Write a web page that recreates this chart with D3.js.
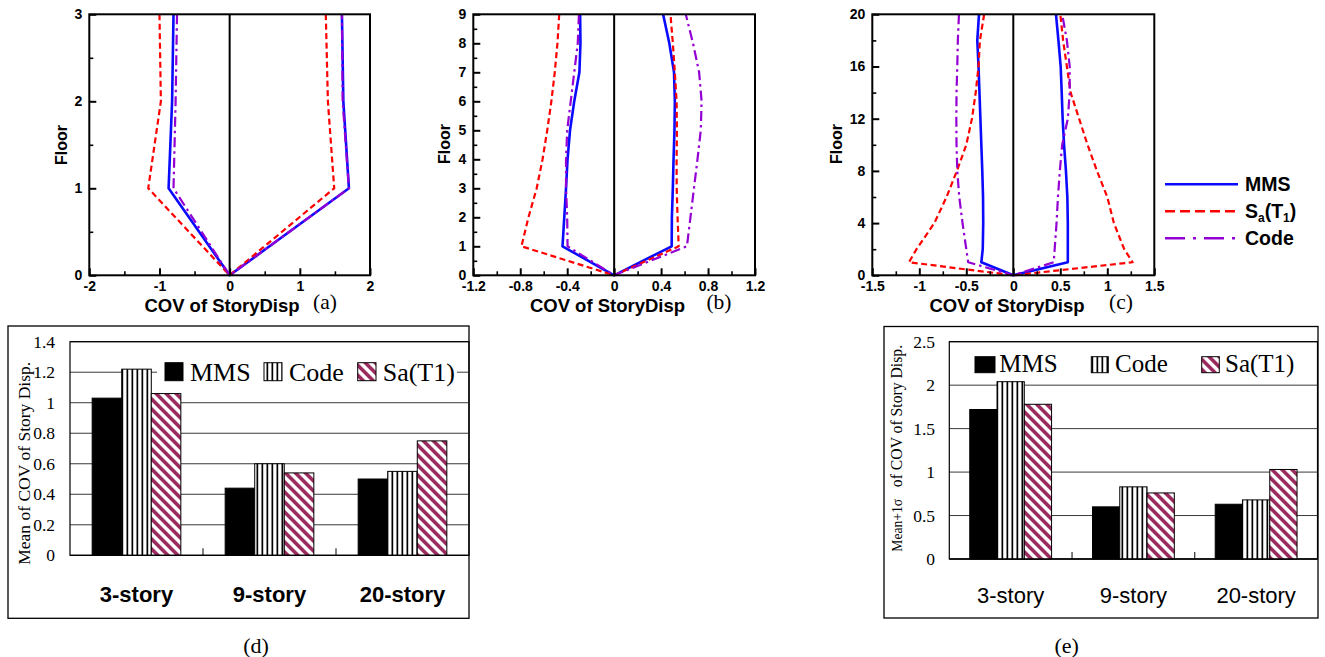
<!DOCTYPE html>
<html>
<head>
<meta charset="utf-8">
<script src="https://cdn.jsdelivr.net/npm/d3@7"></script>
<style>
  html, body { margin: 0; padding: 0; background: #fff; }
  svg { display: block; }
</style>
</head>
<body>
<svg id="fig" width="1325" height="657"></svg>
<script>
// ---------- COV of story displacement profiles (left branch < 0, right branch > 0) ----------
const floorsA = [0, 1, 2, 3];
const mmsAL  = [0, -0.87, -0.82, -0.80];
const mmsAR  = [0, 1.70, 1.62, 1.60];
const saAL   = [0, -1.16, -0.98, -1.00];
const saAR   = [0, 1.49, 1.40, 1.37];
const codeAL = [0, -0.80, -0.77, -0.75];
const codeAR = [0, 1.70, 1.61, 1.60];

const floorsB = [0, 1, 2, 3, 4, 5, 6, 7, 8, 9];
const mmsBL  = [0, -0.44, -0.425, -0.41, -0.397, -0.376, -0.34, -0.296, -0.287, -0.29];
const mmsBR  = [0, 0.49, 0.492, 0.50, 0.506, 0.514, 0.517, 0.51, 0.47, 0.417];
const saBL   = [0, -0.79, -0.73, -0.66, -0.61, -0.57, -0.535, -0.506, -0.483, -0.468];
const saBR   = [0, 0.55, 0.54, 0.533, 0.532, 0.535, 0.532, 0.517, 0.50, 0.48];
const codeBL = [0, -0.397, -0.40, -0.41, -0.41, -0.40, -0.37, -0.34, -0.31, -0.30];
const codeBR = [0, 0.62, 0.65, 0.68, 0.71, 0.738, 0.745, 0.724, 0.672, 0.61];

const floorsC = [0, 1, 2, 4, 6, 8, 10, 12, 14, 16, 18, 20];
const mmsCL  = [0, -0.34, -0.325, -0.32, -0.322, -0.33, -0.34, -0.35, -0.36, -0.37, -0.383, -0.365];
const mmsCR  = [0, 0.58, 0.58, 0.58, 0.575, 0.56, 0.54, 0.525, 0.515, 0.504, 0.48, 0.454];
const saCL   = [0, -1.11, -1.03, -0.84, -0.71, -0.60, -0.50, -0.44, -0.40, -0.37, -0.355, -0.31];
const saCR   = [0, 1.27, 1.18, 1.07, 1.00, 0.89, 0.79, 0.70, 0.61, 0.57, 0.53, 0.50];
const codeCL = [0, -0.48, -0.50, -0.54, -0.575, -0.596, -0.604, -0.606, -0.604, -0.596, -0.59, -0.578];
const codeCR = [0, 0.43, 0.44, 0.46, 0.475, 0.495, 0.52, 0.58, 0.60, 0.60, 0.57, 0.52];

// axis ticks of the profile panels
const xTicksA = [-2, -1, 0, 1, 2];
const xMinorA = [-1.5, -0.5, 0.5, 1.5];
const yTicksA = [0, 1, 2, 3];
const yMinorA = [0.5, 1.5, 2.5];
const xTicksB = [-1.2, -0.8, -0.4, 0, 0.4, 0.8, 1.2];
const xMinorB = [-1.0, -0.6, -0.2, 0.2, 0.6, 1.0];
const yTicksB = [0, 1, 2, 3, 4, 5, 6, 7, 8, 9];
const yMinorB = [0.5, 1.5, 2.5, 3.5, 4.5, 5.5, 6.5, 7.5, 8.5];
const xTicksC = [-1.5, -1, -0.5, 0, 0.5, 1, 1.5];
const xMinorC = [-1.25, -0.75, -0.25, 0.25, 0.75, 1.25];
const yTicksC = [0, 4, 8, 12, 16, 20];
const yMinorC = [2, 6, 10, 14, 18];

// ---------- summary bars ----------
const categories = ["3-story", "9-story", "20-story"];
const seriesNames = ["MMS", "Code", "Sa"];
const meanMMS  = [1.03, 0.44, 0.50];
const meanCode = [1.22, 0.60, 0.55];
const meanSa   = [1.06, 0.54, 0.75];
const sigMMS   = [1.72, 0.60, 0.63];
const sigCode  = [2.04, 0.83, 0.68];
const sigSa    = [1.78, 0.76, 1.03];
const yTicksD = [0, 0.2, 0.4, 0.6, 0.8, 1, 1.2, 1.4];
const yTicksE = [0, 0.5, 1, 1.5, 2, 2.5];

// ---------- drawing ----------
const SANS = "'Liberation Sans', Arial, Helvetica, sans-serif";
const SERIF = "'Liberation Serif', 'Times New Roman', Times, serif";
const svg = d3.select("#fig");

const lineStyle = {
  MMS:  { color: "#0a0aff", width: 2.6, dash: null,         legendDash: null },
  Sa:   { color: "#ff0000", width: 2.2, dash: "6,3.5",      legendDash: "10,5" },
  Code: { color: "#9400d3", width: 2.2, dash: "10,4,2.5,4", legendDash: "20,8,3,8" }
};

const defs = svg.append("defs");
// vertical black stripes (Code)
const pv = defs.append("pattern").attr("id", "vstripe")
  .attr("patternUnits", "userSpaceOnUse").attr("width", 5).attr("height", 5);
pv.append("rect").attr("width", 5).attr("height", 5).attr("fill", "#fff");
pv.append("rect").attr("x", 1.5).attr("width", 1.7).attr("height", 5).attr("fill", "#000");
// diagonal maroon stripes (Sa)
const pd = defs.append("pattern").attr("id", "dstripe")
  .attr("patternUnits", "userSpaceOnUse").attr("width", 7.07).attr("height", 7.07)
  .attr("patternTransform", "rotate(-45)");
pd.append("rect").attr("width", 7.07).attr("height", 7.07).attr("fill", "#fff");
pd.append("rect").attr("width", 3.6).attr("height", 7.07).attr("fill", "#9b2a5e");

const barFill = { MMS: "#000", Code: "url(#vstripe)", Sa: "url(#dstripe)" };

const TOP = 14.3, BOTTOM = 275.3;

function drawProfile(p) {
  const g = svg.append("g");
  const x = d3.scaleLinear().domain([p.xTicks[0], p.xTicks[p.xTicks.length - 1]]).range([p.left, p.right]);
  const y = d3.scaleLinear().domain([0, p.yTicks[p.yTicks.length - 1]]).range([BOTTOM, TOP]);
  const line = d3.line().x(d => x(d[0])).y(d => y(d[1]));

  g.append("line")
    .attr("x1", x(0)).attr("x2", x(0)).attr("y1", BOTTOM).attr("y2", TOP)
    .attr("stroke", "#000").attr("stroke-width", 2);

  ["MMS", "Sa", "Code"].forEach(s => {
    const [L, R] = p.data[s];
    const left = p.floors.map((f, i) => [L[i], f]).reverse();
    const right = p.floors.map((f, i) => [R[i], f]).slice(1);
    const st = lineStyle[s];
    g.append("path").attr("d", line(left.concat(right)))
      .attr("fill", "none").attr("stroke", st.color).attr("stroke-width", st.width)
      .attr("stroke-dasharray", st.dash).attr("stroke-linejoin", "round");
  });

  const styleAxis = (sel, w) => {
    sel.select(".domain").remove();
    sel.selectAll(".tick line").attr("stroke", "#000").attr("stroke-width", w);
    sel.selectAll(".tick text").attr("font-family", SANS).attr("font-weight", "bold")
      .attr("font-size", 14).attr("fill", "#000");
  };
  g.append("g").attr("transform", `translate(0,${BOTTOM})`)
    .call(d3.axisBottom(x).tickValues(p.xTicks).tickSize(-7).tickPadding(6).tickFormat(d => String(d)))
    .call(sel => styleAxis(sel, 2));
  g.append("g").attr("transform", `translate(0,${BOTTOM})`)
    .call(d3.axisBottom(x).tickValues(p.xMinor).tickSize(-4).tickFormat(""))
    .call(sel => styleAxis(sel, 1.6));
  g.append("g").attr("transform", `translate(${p.left},0)`)
    .call(d3.axisLeft(y).tickValues(p.yTicks).tickSize(-7).tickPadding(7).tickFormat(d => String(d)))
    .call(sel => styleAxis(sel, 2));
  g.append("g").attr("transform", `translate(${p.left},0)`)
    .call(d3.axisLeft(y).tickValues(p.yMinor).tickSize(-4).tickFormat(""))
    .call(sel => styleAxis(sel, 1.6));

  g.append("rect").attr("x", p.left).attr("y", TOP)
    .attr("width", p.right - p.left).attr("height", BOTTOM - TOP)
    .attr("fill", "none").attr("stroke", "#000").attr("stroke-width", 2);

  g.append("text").attr("transform", `translate(${p.floorX},${p.floorY}) rotate(-90)`)
    .attr("text-anchor", "middle").attr("font-family", SANS).attr("font-weight", "bold")
    .attr("font-size", 16).text("Floor");
  g.append("text").attr("x", p.titleX).attr("y", 311.5)
    .attr("text-anchor", "middle").attr("font-family", SANS).attr("font-weight", "bold")
    .attr("font-size", 18.5).text("COV of StoryDisp");
  g.append("text").attr("x", p.capX).attr("y", 308.5)
    .attr("text-anchor", "middle").attr("font-family", SERIF)
    .attr("font-size", 21.5).text(p.caption);
}

drawProfile({
  left: 89.3, right: 370, xTicks: xTicksA, xMinor: xMinorA, yTicks: yTicksA, yMinor: yMinorA,
  floors: floorsA, data: { MMS: [mmsAL, mmsAR], Sa: [saAL, saAR], Code: [codeAL, codeAR] },
  floorX: 66.5, floorY: 145, titleX: 222, capX: 325, caption: "(a)"
});
drawProfile({
  left: 473.3, right: 755, xTicks: xTicksB, xMinor: xMinorB, yTicks: yTicksB, yMinor: yMinorB,
  floors: floorsB, data: { MMS: [mmsBL, mmsBR], Sa: [saBL, saBR], Code: [codeBL, codeBR] },
  floorX: 450, floorY: 144, titleX: 607.5, capX: 719, caption: "(b)"
});
drawProfile({
  left: 872.3, right: 1154.3, xTicks: xTicksC, xMinor: xMinorC, yTicks: yTicksC, yMinor: yMinorC,
  floors: floorsC, data: { MMS: [mmsCL, mmsCR], Sa: [saCL, saCR], Code: [codeCL, codeCR] },
  floorX: 841.7, floorY: 144, titleX: 1007, capX: 1121, caption: "(c)"
});

// line legend
const lgItems = ["MMS", "Sa", "Code"];
const lgY = d3.scalePoint().domain(lgItems).range([184.3, 238.3]);
const lg = svg.append("g");
lgItems.forEach(s => {
  const st = lineStyle[s];
  lg.append("line").attr("x1", 1165).attr("x2", 1238).attr("y1", lgY(s)).attr("y2", lgY(s))
    .attr("stroke", st.color).attr("stroke-width", 2.6).attr("stroke-dasharray", st.legendDash);
  const t = lg.append("text").attr("x", 1245).attr("y", lgY(s) + 7)
    .attr("font-family", SANS).attr("font-weight", "bold").attr("font-size", 19.5);
  if (s === "Sa") {
    t.append("tspan").text("S");
    t.append("tspan").attr("font-size", 12).attr("dy", 4).text("a");
    t.append("tspan").attr("dy", -4).text("(T");
    t.append("tspan").attr("font-size", 12).attr("dy", 4).text("1");
    t.append("tspan").attr("dy", -4).text(")");
  } else {
    t.text(s === "MMS" ? "MMS" : "Code");
  }
});

// ---------- bar panels ----------
function drawBars(p) {
  const g = svg.append("g");
  g.append("rect").attr("x", p.box[0]).attr("y", p.box[1])
    .attr("width", p.box[2] - p.box[0]).attr("height", p.box[3] - p.box[1])
    .attr("fill", "none").attr("stroke", "#000").attr("stroke-width", 1.3);

  const x0 = d3.scaleBand().domain(categories).range([p.left, p.right]);
  const bw = x0.bandwidth();
  const x1 = d3.scaleBand().domain(seriesNames).range([bw / 6, bw * 5 / 6]);
  const y = d3.scaleLinear().domain([0, p.yTicks[p.yTicks.length - 1]]).range([p.bottom, p.top]);

  // grid
  g.selectAll("line.grid").data(p.yTicks).join("line")
    .attr("x1", p.left).attr("x2", p.right)
    .attr("y1", d => y(d)).attr("y2", d => y(d))
    .attr("stroke", d => (d === 0 ? "#000" : "#3a3a3a")).attr("stroke-width", d => (d === 0 ? 1.3 : 1));
  g.selectAll("text.yt").data(p.yTicks).join("text")
    .attr("x", p.tickX).attr("y", d => y(d)).attr("dy", "0.35em")
    .attr("text-anchor", "end").attr("font-family", SERIF).attr("font-size", 17.5)
    .text(d => String(d));

  // category separators
  g.selectAll("line.sep").data(categories.slice(1)).join("line")
    .attr("x1", d => x0(d)).attr("x2", d => x0(d))
    .attr("y1", p.bottom).attr("y2", p.bottom - 7)
    .attr("stroke", "#000").attr("stroke-width", 1);

  // bars
  const values = { MMS: p.mms, Code: p.code, Sa: p.sa };
  seriesNames.forEach(s => {
    g.selectAll(null).data(categories).join("rect")
      .attr("x", d => x0(d) + x1(s)).attr("width", x1.bandwidth())
      .attr("y", (d, i) => y(values[s][i])).attr("height", (d, i) => p.bottom - y(values[s][i]))
      .attr("fill", barFill[s]).attr("stroke", "#000").attr("stroke-width", 1);
  });

  // plot frame
  g.append("rect").attr("x", p.left).attr("y", p.top)
    .attr("width", p.right - p.left).attr("height", p.bottom - p.top)
    .attr("fill", "none").attr("stroke", "#000").attr("stroke-width", 1.2);

  // legend
  const lg = g.append("g");
  if (p.legendBg) {
    lg.append("rect").attr("x", p.legendBg[0]).attr("y", p.legendBg[1])
      .attr("width", p.legendBg[2]).attr("height", p.legendBg[3]).attr("fill", "#fff");
  }
  const labels = { MMS: "MMS", Code: "Code", Sa: "Sa(T1)" };
  seriesNames.forEach((s, i) => {
    const sw = p.swatches[i];
    lg.append("rect").attr("x", sw[0]).attr("y", sw[1]).attr("width", sw[2]).attr("height", sw[3])
      .attr("fill", barFill[s]).attr("stroke", "#000").attr("stroke-width", 1);
    lg.append("text").attr("x", sw[4]).attr("y", p.legendBase)
      .attr("font-family", SERIF).attr("font-size", p.legendSize).text(labels[s]);
  });

  // category labels
  g.selectAll("text.cat").data(categories).join("text")
    .attr("x", d => x0(d) + bw / 2).attr("y", p.catBase)
    .attr("text-anchor", "middle").attr("font-family", SANS)
    .attr("font-weight", p.catBold ? "bold" : "normal").attr("font-size", 22)
    .text(d => d);

  // y-axis title
  const yt = g.append("text").attr("transform", `translate(${p.ylabX},${p.ylabY}) rotate(-90)`)
    .attr("text-anchor", "middle").attr("font-family", SERIF);
  p.ylab.forEach(part => yt.append("tspan").attr("font-size", part[1]).text(part[0]));

  g.append("text").attr("x", p.capX).attr("y", 653).attr("text-anchor", "middle")
    .attr("font-family", SERIF).attr("font-size", 22).text(p.caption);
}

drawBars({
  box: [8, 326, 469, 618.3], left: 70, right: 469, top: 341.7, bottom: 555.3,
  yTicks: yTicksD, tickX: 55, mms: meanMMS, code: meanCode, sa: meanSa,
  legendBg: [157, 356, 300, 32], legendSize: 26, legendBase: 380.7,
  swatches: [[165, 362.7, 18, 18, 190], [264, 362.7, 18, 18, 289], [357.7, 362.7, 18.3, 18, 382.7]],
  catBase: 601.7, catBold: true,
  ylabX: 29.5, ylabY: 463.3, ylab: [["Mean of COV of Story Disp.", 17.5]],
  capX: 256, caption: "(d)"
});
drawBars({
  box: [884, 326.5, 1318, 618], left: 949.3, right: 1317.5, top: 341.7, bottom: 559,
  yTicks: yTicksE, tickX: 935, mms: sigMMS, code: sigCode, sa: sigSa,
  legendBg: null, legendSize: 25, legendBase: 372.3,
  swatches: [[975, 356.7, 20, 16, 999.3], [1091.3, 356.7, 17, 16, 1115], [1201.7, 356.7, 17.6, 16, 1225]],
  catBase: 603, catBold: false,
  ylabX: 901.5, ylabY: 448.3, ylab: [["Mean+1\u03c3", 13.6], ["\u2002 of COV of Story Disp.", 15.7]],
  capX: 1066.7, caption: "(e)"
});
</script>
</body>
</html>
